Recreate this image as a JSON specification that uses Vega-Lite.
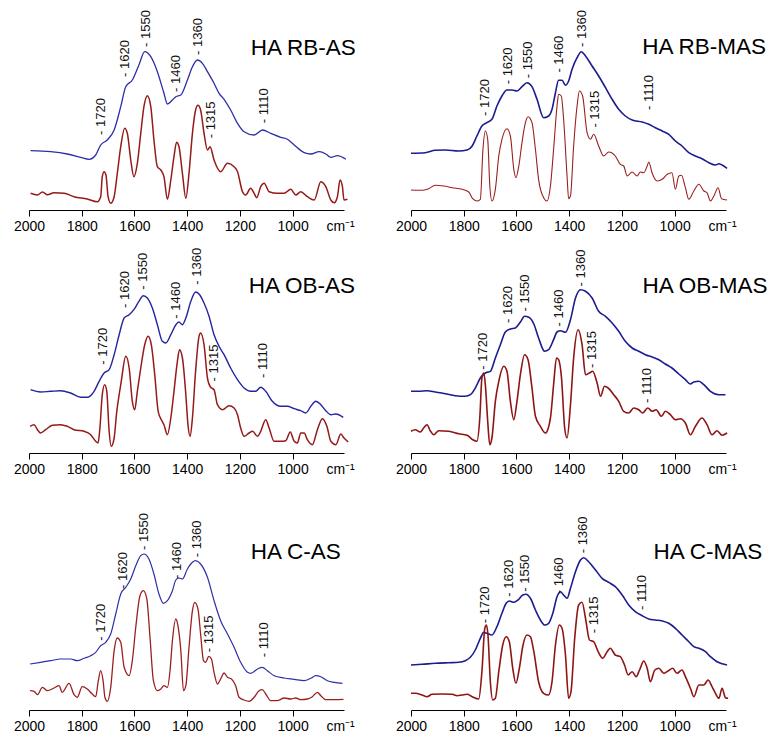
{
"$schema": "https://vega.github.io/schema/vega-lite/v6.json",
"padding": {"left": 13, "top": 5, "right": 0, "bottom": 0},
"config": {
 "view": {"stroke": null},
 "font": "Liberation Sans",
 "axis": {"domainColor": "#000", "tickColor": "#000", "labelColor": "#000", "labelFontSize": 14, "labelFont": "Liberation Sans", "tickSize": 6, "labelPadding": 3, "grid": false, "labelFlush": false, "labelOverlap": false, "domainWidth": 1, "tickWidth": 1}
},
"datasets": {
 "RBAS_b": [{"wn":1994,"a":59.3},{"wn":1918,"a":58.3},{"wn":1855,"a":56},{"wn":1804,"a":52.7},{"wn":1772,"a":50.7},{"wn":1747,"a":55},{"wn":1728,"a":65},{"wn":1703,"a":70},{"wn":1677,"a":80},{"wn":1652,"a":103.3},{"wn":1633,"a":123.3},{"wn":1608,"a":130},{"wn":1583,"a":145},{"wn":1561,"a":158.3},{"wn":1538,"a":153.3},{"wn":1513,"a":138.3},{"wn":1488,"a":116.7},{"wn":1475,"a":106},{"wn":1456,"a":110},{"wn":1443,"a":113.3},{"wn":1424,"a":115},{"wn":1399,"a":130},{"wn":1380,"a":143.3},{"wn":1361,"a":150},{"wn":1342,"a":146.7},{"wn":1323,"a":138.3},{"wn":1298,"a":126.7},{"wn":1279,"a":116.7},{"wn":1260,"a":110.7},{"wn":1235,"a":100},{"wn":1209,"a":86.7},{"wn":1184,"a":78.3},{"wn":1146,"a":75},{"wn":1114,"a":80},{"wn":1083,"a":76.7},{"wn":1045,"a":72.7},{"wn":1020,"a":70.7},{"wn":994,"a":65},{"wn":956,"a":57.3},{"wn":931,"a":56},{"wn":899,"a":58.3},{"wn":874,"a":56},{"wn":855,"a":52.7},{"wn":830,"a":54.3},{"wn":798,"a":50.7}],
 "RBAS_r": [{"wn":1994,"a":16.7},{"wn":1968,"a":15},{"wn":1949,"a":18},{"wn":1930,"a":15.3},{"wn":1905,"a":17.3},{"wn":1867,"a":16.7},{"wn":1829,"a":13.3},{"wn":1779,"a":11},{"wn":1741,"a":8.3},{"wn":1728,"a":13.3},{"wn":1722,"a":33.3},{"wn":1715,"a":38.3},{"wn":1708,"a":35},{"wn":1700,"a":13.3},{"wn":1690,"a":6.7},{"wn":1677,"a":13.3},{"wn":1665,"a":36.7},{"wn":1652,"a":63.3},{"wn":1637,"a":81.7},{"wn":1627,"a":76.7},{"wn":1614,"a":50},{"wn":1602,"a":33.3},{"wn":1589,"a":46.7},{"wn":1576,"a":76.7},{"wn":1564,"a":103.3},{"wn":1551,"a":114.3},{"wn":1538,"a":103.3},{"wn":1526,"a":70},{"wn":1513,"a":43.3},{"wn":1500,"a":40},{"wn":1488,"a":33.3},{"wn":1475,"a":10.7},{"wn":1462,"a":30},{"wn":1450,"a":53.3},{"wn":1440,"a":67.7},{"wn":1431,"a":63.3},{"wn":1418,"a":36.7},{"wn":1405,"a":11.7},{"wn":1393,"a":36.7},{"wn":1380,"a":76.7},{"wn":1368,"a":100},{"wn":1359,"a":104.7},{"wn":1349,"a":100},{"wn":1336,"a":76.7},{"wn":1323,"a":60},{"wn":1313,"a":63.3},{"wn":1298,"a":50},{"wn":1273,"a":38.3},{"wn":1247,"a":46.7},{"wn":1222,"a":43.3},{"wn":1209,"a":38.3},{"wn":1190,"a":18.3},{"wn":1178,"a":15},{"wn":1159,"a":21.7},{"wn":1146,"a":16.7},{"wn":1136,"a":12.3},{"wn":1121,"a":23.3},{"wn":1108,"a":26.7},{"wn":1089,"a":18.3},{"wn":1058,"a":16.7},{"wn":1032,"a":16.7},{"wn":1007,"a":20.7},{"wn":988,"a":15},{"wn":969,"a":18.3},{"wn":944,"a":13.3},{"wn":918,"a":10},{"wn":893,"a":28.3},{"wn":874,"a":23.3},{"wn":855,"a":10},{"wn":842,"a":7.3},{"wn":830,"a":13.3},{"wn":820,"a":30},{"wn":811,"a":23.3},{"wn":805,"a":10},{"wn":792,"a":10.7}],
 "RBMAS_b": [{"wn":2000,"a":56.7},{"wn":1946,"a":57.3},{"wn":1908,"a":59.7},{"wn":1870,"a":60},{"wn":1819,"a":59},{"wn":1787,"a":60},{"wn":1768,"a":64},{"wn":1750,"a":74},{"wn":1731,"a":84},{"wn":1712,"a":87.3},{"wn":1693,"a":90.7},{"wn":1674,"a":104},{"wn":1655,"a":114},{"wn":1636,"a":120},{"wn":1617,"a":120},{"wn":1598,"a":119},{"wn":1579,"a":123.3},{"wn":1560,"a":127.3},{"wn":1541,"a":123.3},{"wn":1522,"a":110.7},{"wn":1497,"a":92.3},{"wn":1478,"a":94},{"wn":1465,"a":100.7},{"wn":1452,"a":117.3},{"wn":1440,"a":129.7},{"wn":1427,"a":129.7},{"wn":1414,"a":124.7},{"wn":1402,"a":129},{"wn":1389,"a":140.7},{"wn":1370,"a":152.3},{"wn":1354,"a":158.3},{"wn":1338,"a":154},{"wn":1313,"a":144},{"wn":1288,"a":134},{"wn":1262,"a":122.3},{"wn":1237,"a":110.7},{"wn":1212,"a":100.7},{"wn":1187,"a":94},{"wn":1161,"a":90},{"wn":1123,"a":88},{"wn":1098,"a":85.7},{"wn":1073,"a":82.3},{"wn":1047,"a":79},{"wn":1022,"a":75.7},{"wn":997,"a":69},{"wn":972,"a":64},{"wn":946,"a":57.3},{"wn":921,"a":54},{"wn":896,"a":51.3},{"wn":870,"a":47.3},{"wn":845,"a":45},{"wn":832,"a":46.3},{"wn":820,"a":45},{"wn":801,"a":41.7}],
 "RBMAS_r": [{"wn":2000,"a":20},{"wn":1958,"a":19.7},{"wn":1933,"a":21.3},{"wn":1908,"a":24.7},{"wn":1876,"a":24},{"wn":1844,"a":22.3},{"wn":1806,"a":20.7},{"wn":1781,"a":18},{"wn":1766,"a":11.3},{"wn":1750,"a":9},{"wn":1737,"a":10.7},{"wn":1727,"a":60.7},{"wn":1718,"a":79},{"wn":1709,"a":70.7},{"wn":1701,"a":24},{"wn":1693,"a":9},{"wn":1680,"a":20.7},{"wn":1667,"a":54},{"wn":1655,"a":70.7},{"wn":1636,"a":81.3},{"wn":1623,"a":74},{"wn":1610,"a":40.7},{"wn":1602,"a":32.3},{"wn":1591,"a":44},{"wn":1579,"a":67.3},{"wn":1566,"a":87.3},{"wn":1556,"a":93.3},{"wn":1541,"a":87.3},{"wn":1528,"a":60.7},{"wn":1516,"a":30.7},{"wn":1497,"a":12.3},{"wn":1484,"a":9},{"wn":1471,"a":24},{"wn":1459,"a":60.7},{"wn":1446,"a":104},{"wn":1440,"a":115.7},{"wn":1430,"a":114},{"wn":1421,"a":90.7},{"wn":1408,"a":34},{"wn":1402,"a":11.3},{"wn":1395,"a":14},{"wn":1383,"a":64},{"wn":1370,"a":104},{"wn":1361,"a":119},{"wn":1349,"a":114},{"wn":1332,"a":77.3},{"wn":1319,"a":70.7},{"wn":1307,"a":75.7},{"wn":1288,"a":64},{"wn":1269,"a":54},{"wn":1250,"a":58},{"wn":1225,"a":54},{"wn":1206,"a":45.7},{"wn":1193,"a":44},{"wn":1180,"a":34},{"wn":1161,"a":38},{"wn":1142,"a":34},{"wn":1130,"a":38},{"wn":1117,"a":37.3},{"wn":1104,"a":44},{"wn":1098,"a":48},{"wn":1085,"a":36.7},{"wn":1066,"a":29},{"wn":1047,"a":30.7},{"wn":1028,"a":35.7},{"wn":1010,"a":37.3},{"wn":997,"a":20.7},{"wn":984,"a":34},{"wn":974,"a":34.7},{"wn":959,"a":22.3},{"wn":946,"a":10.7},{"wn":927,"a":19},{"wn":908,"a":25.7},{"wn":889,"a":19},{"wn":877,"a":17.3},{"wn":864,"a":9},{"wn":851,"a":14},{"wn":835,"a":22.3},{"wn":822,"a":11.3},{"wn":801,"a":10}],
 "OBAS_b": [{"wn":1994,"a":63.3},{"wn":1956,"a":61},{"wn":1918,"a":61.7},{"wn":1880,"a":62.3},{"wn":1842,"a":60},{"wn":1804,"a":55.7},{"wn":1779,"a":55.7},{"wn":1753,"a":61.7},{"wn":1734,"a":71.7},{"wn":1715,"a":80},{"wn":1696,"a":83.3},{"wn":1677,"a":98.3},{"wn":1658,"a":118.3},{"wn":1639,"a":135},{"wn":1620,"a":138.3},{"wn":1602,"a":143.3},{"wn":1583,"a":151.7},{"wn":1566,"a":157.3},{"wn":1551,"a":155},{"wn":1532,"a":145},{"wn":1513,"a":128.3},{"wn":1494,"a":111.7},{"wn":1481,"a":110},{"wn":1462,"a":118.3},{"wn":1443,"a":128.3},{"wn":1431,"a":131},{"wn":1418,"a":128.3},{"wn":1405,"a":135},{"wn":1386,"a":151.7},{"wn":1368,"a":161},{"wn":1355,"a":159},{"wn":1336,"a":150},{"wn":1317,"a":136.7},{"wn":1298,"a":118.3},{"wn":1279,"a":106.7},{"wn":1260,"a":98.3},{"wn":1235,"a":85},{"wn":1209,"a":73.3},{"wn":1184,"a":65},{"wn":1159,"a":61.7},{"wn":1140,"a":61.7},{"wn":1121,"a":65.7},{"wn":1102,"a":61.7},{"wn":1077,"a":51.7},{"wn":1045,"a":46.7},{"wn":1020,"a":46.7},{"wn":994,"a":44.3},{"wn":969,"a":42.3},{"wn":950,"a":40},{"wn":931,"a":46.7},{"wn":912,"a":51.7},{"wn":893,"a":48.3},{"wn":874,"a":42.3},{"wn":855,"a":38.3},{"wn":836,"a":39},{"wn":808,"a":35.7}],
 "OBAS_r": [{"wn":1996,"a":26.7},{"wn":1981,"a":28.3},{"wn":1968,"a":23.3},{"wn":1956,"a":20},{"wn":1937,"a":23.3},{"wn":1911,"a":27.7},{"wn":1880,"a":28.3},{"wn":1855,"a":26.7},{"wn":1829,"a":23.3},{"wn":1791,"a":21.7},{"wn":1766,"a":18.3},{"wn":1747,"a":11.7},{"wn":1738,"a":10},{"wn":1731,"a":25},{"wn":1722,"a":58.3},{"wn":1713,"a":68.3},{"wn":1705,"a":61.7},{"wn":1696,"a":21.7},{"wn":1688,"a":6.7},{"wn":1677,"a":15},{"wn":1667,"a":41.7},{"wn":1658,"a":58.3},{"wn":1650,"a":71.7},{"wn":1633,"a":96.7},{"wn":1620,"a":85},{"wn":1608,"a":51.7},{"wn":1599,"a":43.3},{"wn":1589,"a":61.7},{"wn":1576,"a":85},{"wn":1561,"a":108.3},{"wn":1548,"a":116.7},{"wn":1536,"a":108.3},{"wn":1523,"a":78.3},{"wn":1510,"a":41.7},{"wn":1498,"a":33.3},{"wn":1488,"a":28.3},{"wn":1475,"a":18.3},{"wn":1462,"a":35},{"wn":1450,"a":61.7},{"wn":1437,"a":91.7},{"wn":1429,"a":103.3},{"wn":1418,"a":95},{"wn":1405,"a":58.3},{"wn":1397,"a":28.3},{"wn":1389,"a":16.7},{"wn":1380,"a":35},{"wn":1368,"a":81.7},{"wn":1355,"a":116.7},{"wn":1349,"a":120},{"wn":1336,"a":108.3},{"wn":1323,"a":75},{"wn":1311,"a":65.7},{"wn":1298,"a":63.3},{"wn":1285,"a":48.3},{"wn":1266,"a":43.3},{"wn":1241,"a":47.3},{"wn":1222,"a":45},{"wn":1209,"a":38.3},{"wn":1197,"a":25},{"wn":1184,"a":16.7},{"wn":1165,"a":20},{"wn":1152,"a":21.7},{"wn":1133,"a":16.7},{"wn":1121,"a":21.7},{"wn":1102,"a":33.3},{"wn":1089,"a":25},{"wn":1070,"a":11.7},{"wn":1045,"a":11.7},{"wn":1026,"a":12.3},{"wn":1009,"a":21},{"wn":994,"a":11.7},{"wn":982,"a":10},{"wn":969,"a":20},{"wn":956,"a":20},{"wn":944,"a":13.3},{"wn":925,"a":8.3},{"wn":906,"a":23.3},{"wn":887,"a":34.3},{"wn":870,"a":26.7},{"wn":855,"a":11.7},{"wn":836,"a":8.3},{"wn":817,"a":19},{"wn":805,"a":15},{"wn":789,"a":11}],
 "OBMAS_b": [{"wn":2000,"a":61.7},{"wn":1971,"a":61.7},{"wn":1939,"a":62.3},{"wn":1908,"a":61},{"wn":1870,"a":59.3},{"wn":1832,"a":57.3},{"wn":1794,"a":56.7},{"wn":1775,"a":58.3},{"wn":1756,"a":65},{"wn":1737,"a":75},{"wn":1718,"a":80},{"wn":1699,"a":81.7},{"wn":1680,"a":95},{"wn":1661,"a":108.3},{"wn":1642,"a":121},{"wn":1623,"a":124},{"wn":1604,"a":125},{"wn":1585,"a":131},{"wn":1569,"a":136.7},{"wn":1553,"a":135.7},{"wn":1534,"a":129},{"wn":1516,"a":115},{"wn":1493,"a":101.7},{"wn":1478,"a":103.3},{"wn":1459,"a":113.3},{"wn":1446,"a":121},{"wn":1433,"a":122.3},{"wn":1414,"a":120.7},{"wn":1395,"a":133.3},{"wn":1376,"a":155},{"wn":1357,"a":163.3},{"wn":1338,"a":161.7},{"wn":1313,"a":155},{"wn":1288,"a":141.7},{"wn":1262,"a":136.7},{"wn":1237,"a":130},{"wn":1212,"a":121.7},{"wn":1187,"a":111.7},{"wn":1161,"a":105},{"wn":1136,"a":101.7},{"wn":1111,"a":98.3},{"wn":1085,"a":96},{"wn":1060,"a":93.3},{"wn":1035,"a":89},{"wn":1010,"a":85},{"wn":984,"a":79},{"wn":959,"a":73.3},{"wn":940,"a":69},{"wn":927,"a":71},{"wn":908,"a":71.7},{"wn":889,"a":68.3},{"wn":864,"a":61.7},{"wn":832,"a":58.3},{"wn":807,"a":58.3}],
 "OBMAS_r": [{"wn":2000,"a":21.7},{"wn":1984,"a":23.3},{"wn":1965,"a":21},{"wn":1952,"a":25},{"wn":1939,"a":28.3},{"wn":1927,"a":22.3},{"wn":1914,"a":18.3},{"wn":1895,"a":22.3},{"wn":1857,"a":21.7},{"wn":1819,"a":19.3},{"wn":1787,"a":17.7},{"wn":1766,"a":13.3},{"wn":1750,"a":11.7},{"wn":1739,"a":35},{"wn":1731,"a":75},{"wn":1724,"a":80},{"wn":1718,"a":68.3},{"wn":1709,"a":31.7},{"wn":1701,"a":8.3},{"wn":1693,"a":15},{"wn":1680,"a":51.7},{"wn":1667,"a":71.7},{"wn":1648,"a":86.7},{"wn":1636,"a":81.7},{"wn":1623,"a":51.7},{"wn":1610,"a":33.3},{"wn":1598,"a":51.7},{"wn":1585,"a":78.3},{"wn":1569,"a":98.3},{"wn":1556,"a":93.3},{"wn":1541,"a":65},{"wn":1528,"a":36.7},{"wn":1509,"a":26.7},{"wn":1490,"a":20},{"wn":1471,"a":35},{"wn":1459,"a":68.3},{"wn":1448,"a":95},{"wn":1440,"a":93.3},{"wn":1429,"a":75},{"wn":1417,"a":25},{"wn":1408,"a":15},{"wn":1395,"a":48.3},{"wn":1383,"a":95},{"wn":1366,"a":123.3},{"wn":1351,"a":108.3},{"wn":1338,"a":78.3},{"wn":1323,"a":80},{"wn":1311,"a":81.7},{"wn":1294,"a":70},{"wn":1281,"a":56.7},{"wn":1266,"a":66.7},{"wn":1252,"a":65},{"wn":1231,"a":58.3},{"wn":1212,"a":51.7},{"wn":1193,"a":41.7},{"wn":1174,"a":40},{"wn":1155,"a":45},{"wn":1136,"a":43.3},{"wn":1121,"a":40},{"wn":1102,"a":45},{"wn":1085,"a":41.7},{"wn":1070,"a":43.3},{"wn":1050,"a":36.7},{"wn":1035,"a":41.7},{"wn":1016,"a":38.3},{"wn":997,"a":33.3},{"wn":978,"a":34.3},{"wn":959,"a":30},{"wn":940,"a":18.3},{"wn":921,"a":26.7},{"wn":896,"a":35},{"wn":877,"a":28.3},{"wn":858,"a":18.3},{"wn":839,"a":22.3},{"wn":820,"a":17.7},{"wn":801,"a":20}],
 "CAS_b": [{"wn":1996,"a":46},{"wn":1956,"a":47.7},{"wn":1918,"a":49.3},{"wn":1880,"a":51},{"wn":1842,"a":51},{"wn":1817,"a":49.3},{"wn":1791,"a":51.7},{"wn":1766,"a":54.3},{"wn":1747,"a":57.7},{"wn":1728,"a":64.3},{"wn":1709,"a":67.7},{"wn":1690,"a":76},{"wn":1671,"a":96},{"wn":1652,"a":116},{"wn":1633,"a":122.7},{"wn":1614,"a":131},{"wn":1595,"a":144.3},{"wn":1576,"a":154.3},{"wn":1564,"a":156},{"wn":1545,"a":151},{"wn":1526,"a":136},{"wn":1507,"a":116},{"wn":1490,"a":106.7},{"wn":1475,"a":109.3},{"wn":1456,"a":119.3},{"wn":1443,"a":130},{"wn":1431,"a":132},{"wn":1418,"a":131},{"wn":1399,"a":141},{"wn":1380,"a":147.7},{"wn":1368,"a":149.3},{"wn":1349,"a":146},{"wn":1323,"a":132.7},{"wn":1298,"a":109.3},{"wn":1273,"a":89.3},{"wn":1247,"a":76},{"wn":1222,"a":62.7},{"wn":1197,"a":47.7},{"wn":1171,"a":37.7},{"wn":1159,"a":36.7},{"wn":1133,"a":41},{"wn":1115,"a":42.7},{"wn":1096,"a":39.3},{"wn":1070,"a":34.3},{"wn":1032,"a":32},{"wn":994,"a":30.7},{"wn":956,"a":29.3},{"wn":931,"a":31.7},{"wn":912,"a":34.3},{"wn":893,"a":33.3},{"wn":868,"a":29.3},{"wn":842,"a":27.7},{"wn":811,"a":26.7}],
 "CAS_r": [{"wn":1996,"a":19.3},{"wn":1981,"a":18.7},{"wn":1968,"a":15.3},{"wn":1949,"a":22.7},{"wn":1930,"a":19.3},{"wn":1905,"a":22},{"wn":1886,"a":24.3},{"wn":1874,"a":17.7},{"wn":1848,"a":26.7},{"wn":1829,"a":15.3},{"wn":1817,"a":12.7},{"wn":1798,"a":23.3},{"wn":1779,"a":21},{"wn":1760,"a":16},{"wn":1747,"a":13.3},{"wn":1737,"a":29.3},{"wn":1728,"a":39.3},{"wn":1719,"a":29.3},{"wn":1712,"a":12.7},{"wn":1703,"a":8.7},{"wn":1690,"a":22.7},{"wn":1677,"a":59.3},{"wn":1665,"a":72},{"wn":1652,"a":67.7},{"wn":1639,"a":42.7},{"wn":1620,"a":34.3},{"wn":1608,"a":49.3},{"wn":1595,"a":82.7},{"wn":1579,"a":114.3},{"wn":1566,"a":119.3},{"wn":1553,"a":111},{"wn":1541,"a":72.7},{"wn":1528,"a":29.3},{"wn":1513,"a":19.3},{"wn":1500,"a":21},{"wn":1488,"a":24.3},{"wn":1475,"a":22.7},{"wn":1465,"a":39.3},{"wn":1456,"a":69.3},{"wn":1443,"a":91},{"wn":1435,"a":84.3},{"wn":1424,"a":59.3},{"wn":1414,"a":19.3},{"wn":1405,"a":24.3},{"wn":1393,"a":62.7},{"wn":1380,"a":99.3},{"wn":1371,"a":107.7},{"wn":1359,"a":101},{"wn":1349,"a":76},{"wn":1338,"a":49.3},{"wn":1330,"a":47.7},{"wn":1318,"a":53.7},{"wn":1308,"a":51},{"wn":1298,"a":37.7},{"wn":1285,"a":26},{"wn":1273,"a":31},{"wn":1260,"a":37},{"wn":1247,"a":32.7},{"wn":1232,"a":31},{"wn":1216,"a":24.3},{"wn":1203,"a":12.7},{"wn":1184,"a":10},{"wn":1165,"a":8.7},{"wn":1146,"a":12.7},{"wn":1127,"a":19.3},{"wn":1115,"a":20.3},{"wn":1102,"a":16},{"wn":1083,"a":9.3},{"wn":1058,"a":9.3},{"wn":1032,"a":12},{"wn":1007,"a":11},{"wn":988,"a":12},{"wn":969,"a":10.3},{"wn":944,"a":11},{"wn":925,"a":13.3},{"wn":906,"a":17.7},{"wn":893,"a":14.3},{"wn":874,"a":10.3},{"wn":842,"a":10.3},{"wn":807,"a":10.7}],
 "CMAS_b": [{"wn":2000,"a":45},{"wn":1958,"a":45.7},{"wn":1908,"a":46.7},{"wn":1857,"a":47.3},{"wn":1819,"a":47.7},{"wn":1794,"a":49.3},{"wn":1775,"a":52.7},{"wn":1756,"a":60},{"wn":1737,"a":71.7},{"wn":1724,"a":77.7},{"wn":1712,"a":76.7},{"wn":1693,"a":75},{"wn":1674,"a":83.3},{"wn":1655,"a":96.7},{"wn":1639,"a":106.7},{"wn":1627,"a":109},{"wn":1610,"a":107.7},{"wn":1594,"a":110},{"wn":1576,"a":115},{"wn":1564,"a":115.7},{"wn":1547,"a":111.7},{"wn":1528,"a":100},{"wn":1509,"a":90},{"wn":1493,"a":85},{"wn":1478,"a":86.7},{"wn":1462,"a":96.7},{"wn":1446,"a":113.3},{"wn":1433,"a":118.3},{"wn":1421,"a":115},{"wn":1408,"a":111.7},{"wn":1395,"a":121.7},{"wn":1376,"a":138.3},{"wn":1357,"a":150},{"wn":1345,"a":152.3},{"wn":1326,"a":148.3},{"wn":1300,"a":140},{"wn":1275,"a":131.7},{"wn":1250,"a":127.7},{"wn":1225,"a":123.3},{"wn":1199,"a":115},{"wn":1174,"a":105},{"wn":1149,"a":98.3},{"wn":1123,"a":94.3},{"wn":1098,"a":91},{"wn":1073,"a":90},{"wn":1047,"a":89},{"wn":1022,"a":86.7},{"wn":997,"a":81.7},{"wn":972,"a":75},{"wn":946,"a":68.3},{"wn":927,"a":63.3},{"wn":908,"a":61.7},{"wn":883,"a":58.3},{"wn":864,"a":53.3},{"wn":839,"a":48.3},{"wn":801,"a":45}],
 "CMAS_r": [{"wn":2000,"a":16.7},{"wn":1984,"a":16.7},{"wn":1958,"a":15},{"wn":1939,"a":13.3},{"wn":1920,"a":15.7},{"wn":1882,"a":16},{"wn":1844,"a":15.7},{"wn":1825,"a":14.3},{"wn":1806,"a":15},{"wn":1787,"a":15.7},{"wn":1768,"a":13.3},{"wn":1743,"a":11},{"wn":1731,"a":38.3},{"wn":1720,"a":81.7},{"wn":1714,"a":85},{"wn":1708,"a":75},{"wn":1699,"a":28.3},{"wn":1690,"a":10},{"wn":1680,"a":11.7},{"wn":1667,"a":38.3},{"wn":1652,"a":65},{"wn":1639,"a":73.3},{"wn":1627,"a":68.3},{"wn":1614,"a":41.7},{"wn":1602,"a":26.7},{"wn":1589,"a":41.7},{"wn":1575,"a":65},{"wn":1560,"a":75},{"wn":1547,"a":73.3},{"wn":1534,"a":58.3},{"wn":1516,"a":28.3},{"wn":1497,"a":16.7},{"wn":1478,"a":15},{"wn":1465,"a":28.3},{"wn":1452,"a":65},{"wn":1437,"a":85},{"wn":1427,"a":81.7},{"wn":1414,"a":55},{"wn":1402,"a":11.7},{"wn":1393,"a":18.3},{"wn":1379,"a":71.7},{"wn":1364,"a":105},{"wn":1351,"a":107.7},{"wn":1338,"a":91.7},{"wn":1323,"a":70},{"wn":1307,"a":68.3},{"wn":1290,"a":58.3},{"wn":1273,"a":51.7},{"wn":1256,"a":58.3},{"wn":1244,"a":61.7},{"wn":1225,"a":55},{"wn":1206,"a":53.3},{"wn":1190,"a":45},{"wn":1176,"a":35},{"wn":1161,"a":38.3},{"wn":1146,"a":33.3},{"wn":1133,"a":40},{"wn":1117,"a":49},{"wn":1104,"a":41.7},{"wn":1092,"a":28.3},{"wn":1075,"a":40},{"wn":1060,"a":41.7},{"wn":1041,"a":36.7},{"wn":1025,"a":39},{"wn":1007,"a":41.7},{"wn":991,"a":36.7},{"wn":972,"a":40},{"wn":959,"a":33.3},{"wn":940,"a":21.7},{"wn":927,"a":13.3},{"wn":908,"a":25},{"wn":889,"a":25},{"wn":873,"a":30},{"wn":858,"a":23.3},{"wn":845,"a":16.7},{"wn":832,"a":11.7},{"wn":820,"a":21.7},{"wn":807,"a":12.3},{"wn":797,"a":11.7}],
 "RBAS_l": [{"wn":1728,"a":75,"label":"- 1720"},{"wn":1636,"a":133,"label":"- 1620"},{"wn":1555,"a":163,"label":"- 1550"},{"wn":1441,"a":118,"label":"- 1460"},{"wn":1357,"a":155,"label":"- 1360"},{"wn":1310,"a":71.7,"label":"- 1315"},{"wn":1107,"a":86.7,"label":"- 1110"}],
 "RBMAS_l": [{"wn":1718,"a":94,"label":"- 1720"},{"wn":1632,"a":125.7,"label":"- 1620"},{"wn":1557,"a":131.7,"label":"- 1550"},{"wn":1440,"a":137.4,"label":"- 1460"},{"wn":1351,"a":163,"label":"- 1360"},{"wn":1301,"a":82.4,"label":"- 1315"},{"wn":1098,"a":100,"label":"- 1110"}],
 "OBAS_l": [{"wn":1721,"a":88.3,"label":"- 1720"},{"wn":1636,"a":145,"label":"- 1620"},{"wn":1566,"a":163.3,"label":"- 1550"},{"wn":1443,"a":134.3,"label":"- 1460"},{"wn":1361,"a":168.3,"label":"- 1360"},{"wn":1298,"a":71.6,"label":"- 1315"},{"wn":1114,"a":75,"label":"- 1110"}],
 "OBMAS_l": [{"wn":1727,"a":83.3,"label":"- 1720"},{"wn":1632,"a":130,"label":"- 1620"},{"wn":1569,"a":141.6,"label":"- 1550"},{"wn":1440,"a":126.6,"label":"- 1460"},{"wn":1354,"a":166.6,"label":"- 1360"},{"wn":1313,"a":85,"label":"- 1315"},{"wn":1106,"a":50,"label":"- 1110"}],
 "CAS_l": [{"wn":1728,"a":69.3,"label":"- 1720"},{"wn":1642,"a":121,"label":"- 1620"},{"wn":1563,"a":160,"label":"- 1550"},{"wn":1437,"a":131,"label":"- 1460"},{"wn":1361,"a":152.7,"label":"- 1360"},{"wn":1316,"a":57.7,"label":"- 1315"},{"wn":1107,"a":52.7,"label":"- 1110"}],
 "CMAS_l": [{"wn":1718,"a":86.7,"label":"- 1720"},{"wn":1627,"a":113.3,"label":"- 1620"},{"wn":1566,"a":118.3,"label":"- 1550"},{"wn":1437,"a":115.7,"label":"- 1460"},{"wn":1347,"a":156.7,"label":"- 1360"},{"wn":1307,"a":76.7,"label":"- 1315"},{"wn":1123,"a":100,"label":"- 1110"}]
},
"columns": 2,
"spacing": {"row": 38, "column": 67},
"bounds": "flush",
"concat": [
  {"width": 315, "height": 205, "layer": [
   {"data": {"name": "RBAS_b"}, "mark": {"type": "line", "color": "#2e2ea8", "strokeWidth": 1.3, "interpolate": "monotone"}, "encoding": {"x": {"field": "wn", "type": "quantitative", "scale": {"domain": [2000, 805], "nice": false, "zero": false}, "axis": {"values": [2000, 1800, 1600, 1400, 1200, 1000, 820], "format": "d", "labelExpr": "datum.value < 900 ? 'cm⁻¹' : datum.label", "tickOpacity": {"condition": {"test": "datum.value < 900", "value": 0}, "value": 1}, "title": null}}, "y": {"field": "a", "type": "quantitative", "scale": {"domain": [0, 205], "nice": false, "zero": false}, "axis": null}, "order": {"field": "wn", "sort": "descending"}}},
   {"data": {"name": "RBAS_r"}, "mark": {"type": "line", "color": "#951a1a", "strokeWidth": 1.5, "interpolate": "monotone"}, "encoding": {"x": {"field": "wn", "type": "quantitative", "scale": {"domain": [2000, 805], "nice": false, "zero": false}}, "y": {"field": "a", "type": "quantitative", "scale": {"domain": [0, 205], "nice": false, "zero": false}, "axis": null}, "order": {"field": "wn", "sort": "descending"}}},
   {"data": {"name": "RBAS_l"}, "mark": {"type": "text", "angle": 270, "align": "left", "baseline": "middle", "fontSize": 13, "font": "Liberation Sans", "color": "#111"}, "encoding": {"x": {"field": "wn", "type": "quantitative", "scale": {"domain": [2000, 805], "nice": false, "zero": false}}, "y": {"field": "a", "type": "quantitative", "scale": {"domain": [0, 205], "nice": false, "zero": false}, "axis": null}, "text": {"field": "label"}}},
   {"data": {"values": [{"wn": 1159, "a": 155, "title": "HA RB-AS"}]}, "mark": {"type": "text", "align": "left", "baseline": "alphabetic", "fontSize": 22.5, "font": "Liberation Sans", "color": "#000"}, "encoding": {"x": {"field": "wn", "type": "quantitative", "scale": {"domain": [2000, 805], "nice": false, "zero": false}}, "y": {"field": "a", "type": "quantitative", "scale": {"domain": [0, 205], "nice": false, "zero": false}, "axis": null}, "text": {"field": "title"}}}
  ]},
  {"width": 315, "height": 205, "layer": [
   {"data": {"name": "RBMAS_b"}, "mark": {"type": "line", "color": "#1c1c90", "strokeWidth": 1.6, "interpolate": "monotone"}, "encoding": {"x": {"field": "wn", "type": "quantitative", "scale": {"domain": [2000, 805], "nice": false, "zero": false}, "axis": {"values": [2000, 1800, 1600, 1400, 1200, 1000, 820], "format": "d", "labelExpr": "datum.value < 900 ? 'cm⁻¹' : datum.label", "tickOpacity": {"condition": {"test": "datum.value < 900", "value": 0}, "value": 1}, "title": null}}, "y": {"field": "a", "type": "quantitative", "scale": {"domain": [0, 205], "nice": false, "zero": false}, "axis": null}, "order": {"field": "wn", "sort": "descending"}}},
   {"data": {"name": "RBMAS_r"}, "mark": {"type": "line", "color": "#9a2020", "strokeWidth": 1.1, "interpolate": "monotone"}, "encoding": {"x": {"field": "wn", "type": "quantitative", "scale": {"domain": [2000, 805], "nice": false, "zero": false}}, "y": {"field": "a", "type": "quantitative", "scale": {"domain": [0, 205], "nice": false, "zero": false}, "axis": null}, "order": {"field": "wn", "sort": "descending"}}},
   {"data": {"name": "RBMAS_l"}, "mark": {"type": "text", "angle": 270, "align": "left", "baseline": "middle", "fontSize": 13, "font": "Liberation Sans", "color": "#111"}, "encoding": {"x": {"field": "wn", "type": "quantitative", "scale": {"domain": [2000, 805], "nice": false, "zero": false}}, "y": {"field": "a", "type": "quantitative", "scale": {"domain": [0, 205], "nice": false, "zero": false}, "axis": null}, "text": {"field": "label"}}},
   {"data": {"values": [{"wn": 1123, "a": 155.7, "title": "HA RB-MAS"}]}, "mark": {"type": "text", "align": "left", "baseline": "alphabetic", "fontSize": 22.5, "font": "Liberation Sans", "color": "#000"}, "encoding": {"x": {"field": "wn", "type": "quantitative", "scale": {"domain": [2000, 805], "nice": false, "zero": false}}, "y": {"field": "a", "type": "quantitative", "scale": {"domain": [0, 205], "nice": false, "zero": false}, "axis": null}, "text": {"field": "title"}}}
  ]},
  {"width": 315, "height": 205, "layer": [
   {"data": {"name": "OBAS_b"}, "mark": {"type": "line", "color": "#2424a0", "strokeWidth": 1.4, "interpolate": "monotone"}, "encoding": {"x": {"field": "wn", "type": "quantitative", "scale": {"domain": [2000, 805], "nice": false, "zero": false}, "axis": {"values": [2000, 1800, 1600, 1400, 1200, 1000, 820], "format": "d", "labelExpr": "datum.value < 900 ? 'cm⁻¹' : datum.label", "tickOpacity": {"condition": {"test": "datum.value < 900", "value": 0}, "value": 1}, "title": null}}, "y": {"field": "a", "type": "quantitative", "scale": {"domain": [0, 205], "nice": false, "zero": false}, "axis": null}, "order": {"field": "wn", "sort": "descending"}}},
   {"data": {"name": "OBAS_r"}, "mark": {"type": "line", "color": "#951a1a", "strokeWidth": 1.5, "interpolate": "monotone"}, "encoding": {"x": {"field": "wn", "type": "quantitative", "scale": {"domain": [2000, 805], "nice": false, "zero": false}}, "y": {"field": "a", "type": "quantitative", "scale": {"domain": [0, 205], "nice": false, "zero": false}, "axis": null}, "order": {"field": "wn", "sort": "descending"}}},
   {"data": {"name": "OBAS_l"}, "mark": {"type": "text", "angle": 270, "align": "left", "baseline": "middle", "fontSize": 13, "font": "Liberation Sans", "color": "#111"}, "encoding": {"x": {"field": "wn", "type": "quantitative", "scale": {"domain": [2000, 805], "nice": false, "zero": false}}, "y": {"field": "a", "type": "quantitative", "scale": {"domain": [0, 205], "nice": false, "zero": false}, "axis": null}, "text": {"field": "label"}}},
   {"data": {"values": [{"wn": 1166, "a": 160, "title": "HA OB-AS"}]}, "mark": {"type": "text", "align": "left", "baseline": "alphabetic", "fontSize": 22.5, "font": "Liberation Sans", "color": "#000"}, "encoding": {"x": {"field": "wn", "type": "quantitative", "scale": {"domain": [2000, 805], "nice": false, "zero": false}}, "y": {"field": "a", "type": "quantitative", "scale": {"domain": [0, 205], "nice": false, "zero": false}, "axis": null}, "text": {"field": "title"}}}
  ]},
  {"width": 315, "height": 205, "layer": [
   {"data": {"name": "OBMAS_b"}, "mark": {"type": "line", "color": "#1c1c90", "strokeWidth": 1.6, "interpolate": "monotone"}, "encoding": {"x": {"field": "wn", "type": "quantitative", "scale": {"domain": [2000, 805], "nice": false, "zero": false}, "axis": {"values": [2000, 1800, 1600, 1400, 1200, 1000, 820], "format": "d", "labelExpr": "datum.value < 900 ? 'cm⁻¹' : datum.label", "tickOpacity": {"condition": {"test": "datum.value < 900", "value": 0}, "value": 1}, "title": null}}, "y": {"field": "a", "type": "quantitative", "scale": {"domain": [0, 205], "nice": false, "zero": false}, "axis": null}, "order": {"field": "wn", "sort": "descending"}}},
   {"data": {"name": "OBMAS_r"}, "mark": {"type": "line", "color": "#8e1515", "strokeWidth": 1.6, "interpolate": "monotone"}, "encoding": {"x": {"field": "wn", "type": "quantitative", "scale": {"domain": [2000, 805], "nice": false, "zero": false}}, "y": {"field": "a", "type": "quantitative", "scale": {"domain": [0, 205], "nice": false, "zero": false}, "axis": null}, "order": {"field": "wn", "sort": "descending"}}},
   {"data": {"name": "OBMAS_l"}, "mark": {"type": "text", "angle": 270, "align": "left", "baseline": "middle", "fontSize": 13, "font": "Liberation Sans", "color": "#111"}, "encoding": {"x": {"field": "wn", "type": "quantitative", "scale": {"domain": [2000, 805], "nice": false, "zero": false}}, "y": {"field": "a", "type": "quantitative", "scale": {"domain": [0, 205], "nice": false, "zero": false}, "axis": null}, "text": {"field": "label"}}},
   {"data": {"values": [{"wn": 1122, "a": 160, "title": "HA OB-MAS"}]}, "mark": {"type": "text", "align": "left", "baseline": "alphabetic", "fontSize": 22.5, "font": "Liberation Sans", "color": "#000"}, "encoding": {"x": {"field": "wn", "type": "quantitative", "scale": {"domain": [2000, 805], "nice": false, "zero": false}}, "y": {"field": "a", "type": "quantitative", "scale": {"domain": [0, 205], "nice": false, "zero": false}, "axis": null}, "text": {"field": "title"}}}
  ]},
  {"width": 315, "height": 219, "layer": [
   {"data": {"name": "CAS_b"}, "mark": {"type": "line", "color": "#2e2ea8", "strokeWidth": 1.2, "interpolate": "monotone"}, "encoding": {"x": {"field": "wn", "type": "quantitative", "scale": {"domain": [2000, 805], "nice": false, "zero": false}, "axis": {"values": [2000, 1800, 1600, 1400, 1200, 1000, 820], "format": "d", "labelExpr": "datum.value < 900 ? 'cm⁻¹' : datum.label", "tickOpacity": {"condition": {"test": "datum.value < 900", "value": 0}, "value": 1}, "title": null}}, "y": {"field": "a", "type": "quantitative", "scale": {"domain": [0, 219], "nice": false, "zero": false}, "axis": null}, "order": {"field": "wn", "sort": "descending"}}},
   {"data": {"name": "CAS_r"}, "mark": {"type": "line", "color": "#9a2020", "strokeWidth": 1.3, "interpolate": "monotone"}, "encoding": {"x": {"field": "wn", "type": "quantitative", "scale": {"domain": [2000, 805], "nice": false, "zero": false}}, "y": {"field": "a", "type": "quantitative", "scale": {"domain": [0, 219], "nice": false, "zero": false}, "axis": null}, "order": {"field": "wn", "sort": "descending"}}},
   {"data": {"name": "CAS_l"}, "mark": {"type": "text", "angle": 270, "align": "left", "baseline": "middle", "fontSize": 13, "font": "Liberation Sans", "color": "#111"}, "encoding": {"x": {"field": "wn", "type": "quantitative", "scale": {"domain": [2000, 805], "nice": false, "zero": false}}, "y": {"field": "a", "type": "quantitative", "scale": {"domain": [0, 219], "nice": false, "zero": false}, "axis": null}, "text": {"field": "label"}}},
   {"data": {"values": [{"wn": 1159, "a": 151, "title": "HA C-AS"}]}, "mark": {"type": "text", "align": "left", "baseline": "alphabetic", "fontSize": 22.5, "font": "Liberation Sans", "color": "#000"}, "encoding": {"x": {"field": "wn", "type": "quantitative", "scale": {"domain": [2000, 805], "nice": false, "zero": false}}, "y": {"field": "a", "type": "quantitative", "scale": {"domain": [0, 219], "nice": false, "zero": false}, "axis": null}, "text": {"field": "title"}}}
  ]},
  {"width": 315, "height": 219, "layer": [
   {"data": {"name": "CMAS_b"}, "mark": {"type": "line", "color": "#1c1c90", "strokeWidth": 1.6, "interpolate": "monotone"}, "encoding": {"x": {"field": "wn", "type": "quantitative", "scale": {"domain": [2000, 805], "nice": false, "zero": false}, "axis": {"values": [2000, 1800, 1600, 1400, 1200, 1000, 820], "format": "d", "labelExpr": "datum.value < 900 ? 'cm⁻¹' : datum.label", "tickOpacity": {"condition": {"test": "datum.value < 900", "value": 0}, "value": 1}, "title": null}}, "y": {"field": "a", "type": "quantitative", "scale": {"domain": [0, 219], "nice": false, "zero": false}, "axis": null}, "order": {"field": "wn", "sort": "descending"}}},
   {"data": {"name": "CMAS_r"}, "mark": {"type": "line", "color": "#8e1515", "strokeWidth": 1.6, "interpolate": "monotone"}, "encoding": {"x": {"field": "wn", "type": "quantitative", "scale": {"domain": [2000, 805], "nice": false, "zero": false}}, "y": {"field": "a", "type": "quantitative", "scale": {"domain": [0, 219], "nice": false, "zero": false}, "axis": null}, "order": {"field": "wn", "sort": "descending"}}},
   {"data": {"name": "CMAS_l"}, "mark": {"type": "text", "angle": 270, "align": "left", "baseline": "middle", "fontSize": 13, "font": "Liberation Sans", "color": "#111"}, "encoding": {"x": {"field": "wn", "type": "quantitative", "scale": {"domain": [2000, 805], "nice": false, "zero": false}}, "y": {"field": "a", "type": "quantitative", "scale": {"domain": [0, 219], "nice": false, "zero": false}, "axis": null}, "text": {"field": "label"}}},
   {"data": {"values": [{"wn": 1080, "a": 151, "title": "HA C-MAS"}]}, "mark": {"type": "text", "align": "left", "baseline": "alphabetic", "fontSize": 22.5, "font": "Liberation Sans", "color": "#000"}, "encoding": {"x": {"field": "wn", "type": "quantitative", "scale": {"domain": [2000, 805], "nice": false, "zero": false}}, "y": {"field": "a", "type": "quantitative", "scale": {"domain": [0, 219], "nice": false, "zero": false}, "axis": null}, "text": {"field": "title"}}}
  ]}
]
}
